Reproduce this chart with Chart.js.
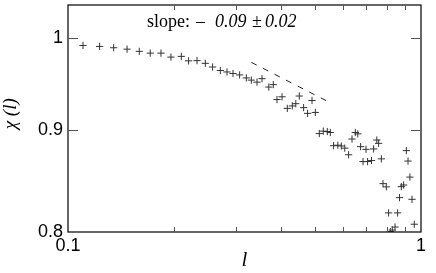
<!DOCTYPE html>
<html>
<head>
<meta charset="utf-8">
<script src="https://cdn.jsdelivr.net/npm/chart.js@4"></script>
<style>
  html, body { margin: 0; padding: 0; background: #fff; }
  #wrap { width: 436px; height: 273px; }
</style>
</head>
<body>
<div id="wrap"><canvas id="chart"></canvas></div>
<script>
// measured points, l and chi(l)
const lValues = [0.1103, 0.1229, 0.1347, 0.1470, 0.1592, 0.1710, 0.1834, 0.1957, 0.2094, 0.2196,
  0.2320, 0.2449, 0.2568, 0.2701, 0.2821, 0.2934, 0.3063, 0.3200, 0.3306, 0.3431,
  0.3545, 0.3706, 0.3816, 0.3909, 0.4039, 0.4181, 0.4320, 0.4419, 0.4521, 0.4650,
  0.4773, 0.4912, 0.5019, 0.5151, 0.5287, 0.5427, 0.5535, 0.5655, 0.5812, 0.5946,
  0.6083, 0.6236, 0.6376, 0.6515, 0.6622, 0.6744, 0.6851, 0.6986, 0.7059, 0.7241,
  0.7341, 0.7496, 0.7585, 0.7720, 0.7806, 0.7975, 0.8096, 0.8186, 0.8293, 0.8441,
  0.8585, 0.8692, 0.8795, 0.8928, 0.9087, 0.9188, 0.9302, 0.9430, 0.9572];
const chiValues = [0.9917, 0.9906, 0.9891, 0.9875, 0.9850, 0.9830, 0.9830, 0.9785, 0.9793, 0.9743,
  0.9745, 0.9715, 0.9674, 0.9635, 0.9619, 0.9602, 0.9586, 0.9553, 0.9529, 0.9507,
  0.9545, 0.9453, 0.9480, 0.9318, 0.9348, 0.9224, 0.9250, 0.9274, 0.9356, 0.9232,
  0.9171, 0.9308, 0.9181, 0.8960, 0.8985, 0.8981, 0.8971, 0.8836, 0.8841, 0.8833,
  0.8811, 0.8744, 0.8904, 0.8971, 0.8957, 0.8826, 0.8676, 0.8799, 0.8676, 0.8686,
  0.8803, 0.8894, 0.8860, 0.8703, 0.8458, 0.8427, 0.8178, 0.8003, 0.8018, 0.8046,
  0.8178, 0.8323, 0.8429, 0.8445, 0.8786, 0.8681, 0.8522, 0.8307, 0.8072];

// dashed guide line, slope -0.09
const fitL = [0.3307, 0.5598];
const fitChi = [0.9726, 0.9274];

const xTicks = [0.1, 1];
const xMinor = [0.2, 0.3, 0.4, 0.5, 0.6, 0.7, 0.8, 0.9];
const yTicks = [0.8, 0.9, 1];

const pts = lValues.map((l, i) => ({ x: l, y: chiValues[i] }));
const fit = fitL.map((l, i) => ({ x: l, y: fitChi[i] }));

// frame + inward ticks + slope note
const framePlugin = {
  id: 'frame',
  afterDraw(c) {
    const ctx = c.ctx, a = c.chartArea;
    const xs = c.scales.x, ys = c.scales.y;
    ctx.save();
    ctx.strokeStyle = '#000';
    ctx.lineWidth = 1.2;
    ctx.strokeRect(a.left, a.top, a.right - a.left, a.bottom - a.top);

    ctx.strokeStyle = '#555';
    ctx.lineWidth = 1;
    ctx.beginPath();
    xMinor.forEach(v => {
      const px = Math.round(xs.getPixelForValue(v)) + 0.5;
      ctx.moveTo(px, a.bottom); ctx.lineTo(px, a.bottom - 5);
      ctx.moveTo(px, a.top); ctx.lineTo(px, a.top + 5);
    });
    [0.9, 1].forEach(v => {
      const py = Math.round(ys.getPixelForValue(v)) + 0.5;
      ctx.moveTo(a.left, py); ctx.lineTo(a.left + 10, py);
      ctx.moveTo(a.right, py); ctx.lineTo(a.right - 10, py);
    });
    ctx.stroke();

    ctx.fillStyle = '#000';
    ctx.textBaseline = 'alphabetic';
    ctx.font = '18px "Liberation Serif"';
    ctx.fillText('slope:', 147, 27);
    ctx.fillText('\u2013', 196, 27);
    ctx.font = 'italic 18px "Liberation Serif"';
    ctx.fillText('0.09', 215, 27);
    ctx.font = '18px "Liberation Serif"';
    ctx.fillText('\u00b1', 252, 27);
    ctx.font = 'italic 18px "Liberation Serif"';
    ctx.fillText('0.02', 265, 27);
    ctx.restore();
  }
};

new Chart(document.getElementById('chart'), {
  type: 'scatter',
  data: {
    datasets: [
      {
        label: 'chi',
        data: pts,
        pointStyle: 'cross',
        pointRadius: 3.6,
        pointBorderWidth: 1,
        borderColor: '#333',
        backgroundColor: '#333'
      },
      {
        label: 'fit',
        type: 'line',
        data: fit,
        borderColor: '#222',
        borderWidth: 1,
        borderDash: [6, 7],
        pointRadius: 0,
        fill: false
      }
    ]
  },
  options: {
    responsive: true,
    maintainAspectRatio: false,
    animation: false,
    layout: { padding: { top: 3, right: 15, left: 0, bottom: 0 } },
    plugins: { legend: { display: false }, tooltip: { enabled: false } },
    scales: {
      x: {
        type: 'logarithmic',
        min: 0.1,
        max: 1,
        afterBuildTicks: s => { s.ticks = xTicks.map(v => ({ value: v })); },
        afterFit: s => { s.height = 41; },
        grid: { display: false, drawTicks: false },
        border: { display: false },
        ticks: {
          padding: 3,
          color: '#000',
          maxRotation: 0,
          font: { family: 'Liberation Sans', size: 18 },
          callback: v => String(v)
        },
        title: {
          display: true,
          text: 'l',
          color: '#000',
          padding: { top: 0, bottom: 0 },
          font: { family: 'Liberation Serif', size: 21, style: 'italic' }
        }
      },
      y: {
        type: 'logarithmic',
        min: 0.8,
        max: 1.039,
        afterBuildTicks: s => { s.ticks = yTicks.map(v => ({ value: v })); },
        afterFit: s => { s.width = 68; s.paddingTop = 0; s.paddingBottom = 0; },
        grid: { display: false, drawTicks: false },
        border: { display: false },
        ticks: {
          padding: 5,
          color: '#000',
          font: { family: 'Liberation Sans', size: 18 },
          callback: v => String(v)
        },
        title: {
          display: true,
          text: '  \u03c7 (l)',
          color: '#000',
          padding: { top: 0, bottom: 0 },
          font: { family: 'Liberation Serif', size: 19, style: 'italic' }
        }
      }
    }
  },
  plugins: [framePlugin]
});
</script>
</body>
</html>
